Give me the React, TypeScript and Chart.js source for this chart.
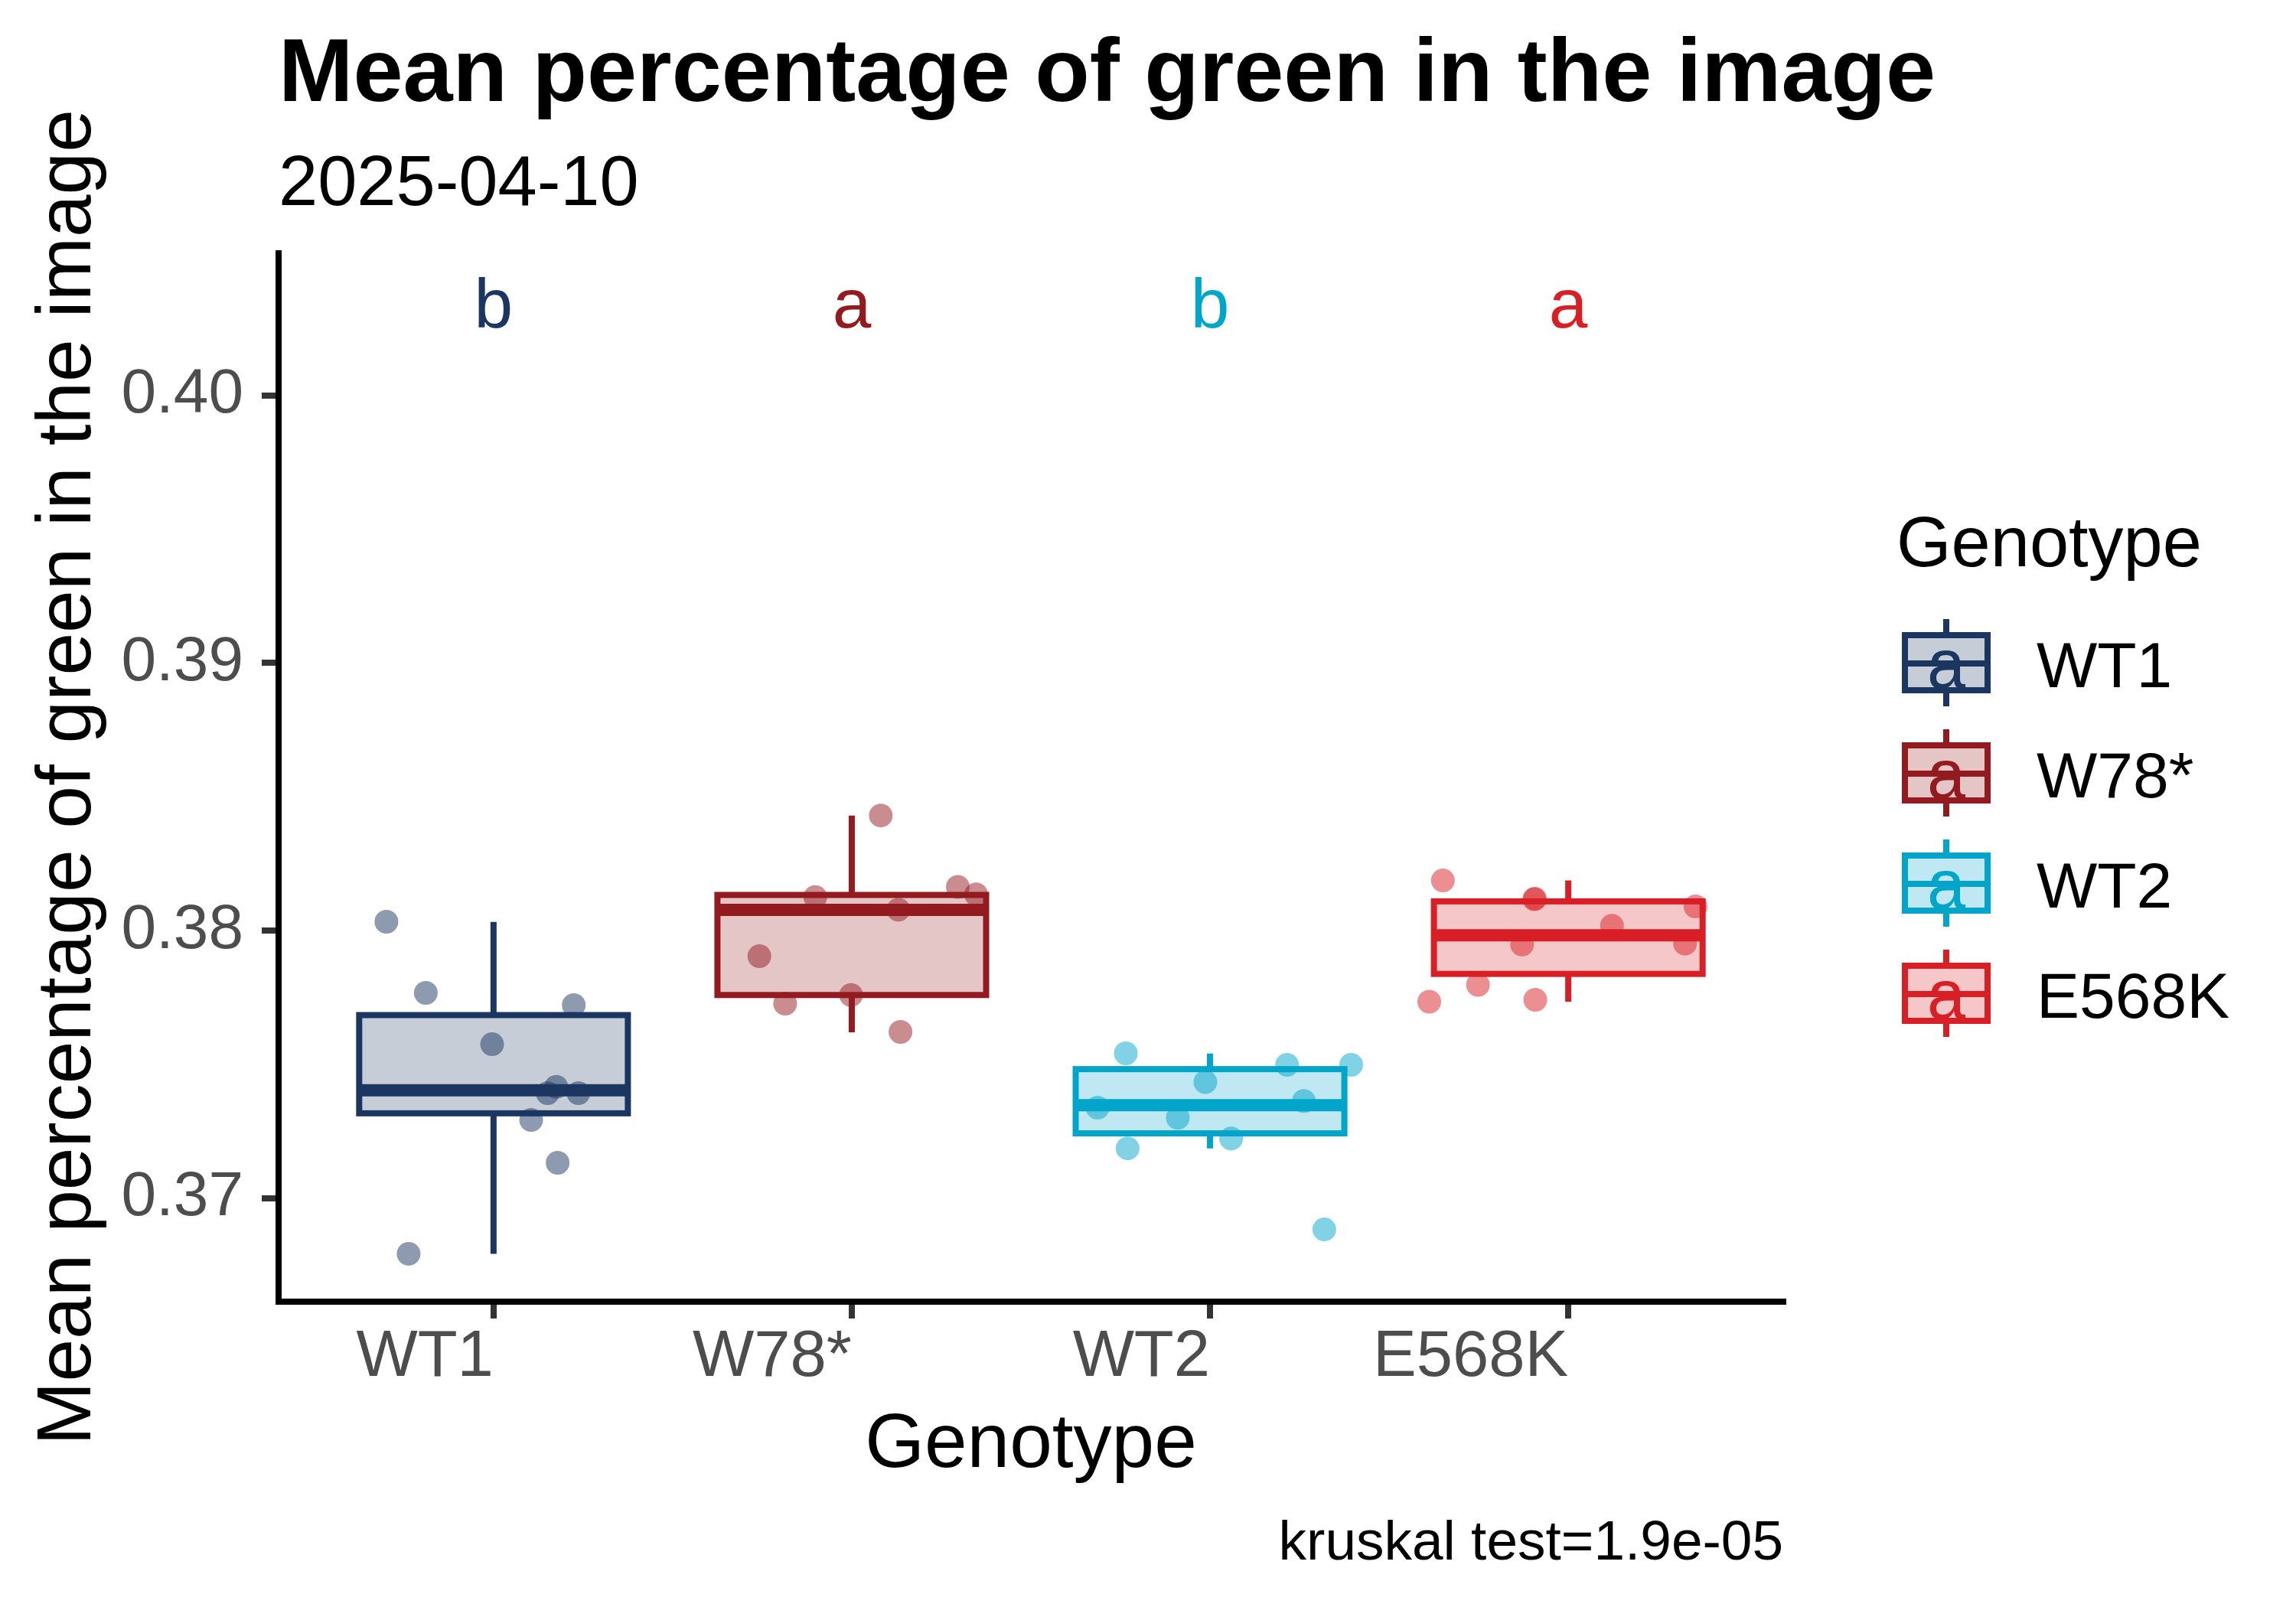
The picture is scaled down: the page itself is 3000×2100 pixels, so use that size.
import React, { useEffect, useRef } from "react";
import { Chart, registerables } from "chart.js";

Chart.register(...registerables);

// ---------- data ----------
const categories = ["WT1", "W78*", "WT2", "E568K"];
const groupColors = ["#1B3660", "#931B1F", "#02A5CA", "#D91F26"];
const sigLetters = ["b", "a", "b", "a"];
const letterY = 0.40254;

const wt1Values = [0.38033, 0.37767, 0.37721, 0.37575, 0.37416, 0.37392, 0.37392, 0.37292, 0.37132, 0.36792];
const wt1Jitter = [-0.299, -0.189, 0.224, -0.004, 0.175, 0.151, 0.237, 0.105, 0.179, -0.237];
const w78Values = [0.3843, 0.38163, 0.38135, 0.38125, 0.38078, 0.37904, 0.37759, 0.37727, 0.37621];
const w78Jitter = [0.081, 0.296, 0.347, -0.102, 0.13, -0.258, -0.002, -0.186, 0.136];
const wt2Values = [0.37541, 0.37498, 0.37498, 0.37434, 0.37363, 0.37338, 0.373, 0.37223, 0.37186, 0.36883];
const wt2Jitter = [-0.235, 0.215, 0.394, -0.013, 0.262, -0.314, -0.09, 0.059, -0.23, 0.319];
const e568kValues = [0.38187, 0.38117, 0.38119, 0.3809, 0.38018, 0.37948, 0.37951, 0.37797, 0.37741, 0.37734];
const e568kJitter = [-0.35, -0.095, -0.093, 0.355, 0.122, -0.129, 0.326, -0.252, -0.092, -0.388];

// box statistics
const whiskerHigh = [0.38032, 0.3843, 0.3754, 0.38187];
const q3 = [0.37684, 0.38133, 0.37482, 0.38109];
const median = [0.37403, 0.38077, 0.37347, 0.37982];
const q1 = [0.37317, 0.37759, 0.37242, 0.37838];
const whiskerLow = [0.36792, 0.3762, 0.37186, 0.37734];

const yTicks = [0.37, 0.38, 0.39, 0.4];
const xTicks = [1, 2, 3, 4];

const titleText = "Mean percentage of green in the image";
const subtitleText = "2025-04-10";
const xTitle = "Genotype";
const yTitle = "Mean percentage of green in the image";
const legendTitle = "Genotype";
const captionText = "kruskal test=1.9e-05";

const groupValues = [wt1Values, w78Values, wt2Values, e568kValues];
const groupJitter = [wt1Jitter, w78Jitter, wt2Jitter, e568kJitter];

// ---------- helpers ----------
const FONT = "'Liberation Sans', Arial, Helvetica, sans-serif";
function rgba(hex: string, a: number) {
  const n = parseInt(hex.slice(1), 16);
  return `rgba(${(n >> 16) & 255},${(n >> 8) & 255},${n & 255},${a})`;
}

const BOX_HALF = 0.375;

const boxPlugin = {
  id: "boxes",
  beforeDatasetsDraw(chart: any) {
    const { ctx, scales } = chart;
    const x = scales.x;
    const y = scales.y;
    categories.forEach((_, i) => {
      const cx = x.getPixelForValue(i + 1);
      const left = x.getPixelForValue(i + 1 - BOX_HALF);
      const right = x.getPixelForValue(i + 1 + BOX_HALF);
      const yHi = y.getPixelForValue(whiskerHigh[i]);
      const yQ3 = y.getPixelForValue(q3[i]);
      const yMed = y.getPixelForValue(median[i]);
      const yQ1 = y.getPixelForValue(q1[i]);
      const yLo = y.getPixelForValue(whiskerLow[i]);
      const col = groupColors[i];
      ctx.save();
      ctx.strokeStyle = col;
      ctx.lineCap = "butt";
      ctx.lineJoin = "miter";
      ctx.lineWidth = 8;
      ctx.beginPath();
      ctx.moveTo(cx, yHi);
      ctx.lineTo(cx, yQ3);
      ctx.moveTo(cx, yQ1);
      ctx.lineTo(cx, yLo);
      ctx.stroke();
      ctx.fillStyle = rgba(col, 0.25);
      ctx.fillRect(left, yQ3, right - left, yQ1 - yQ3);
      ctx.strokeRect(left, yQ3, right - left, yQ1 - yQ3);
      ctx.lineWidth = 16;
      ctx.beginPath();
      ctx.moveTo(left, yMed);
      ctx.lineTo(right, yMed);
      ctx.stroke();
      ctx.restore();
    });
  },
};

const textPlugin = {
  id: "texts",
  afterDraw(chart: any) {
    const { ctx, scales, chartArea } = chart;
    const x = scales.x;
    const y = scales.y;
    ctx.save();
    ctx.textBaseline = "alphabetic";
    // title & subtitle
    ctx.fillStyle = "#000";
    ctx.textAlign = "left";
    ctx.font = `bold 117px ${FONT}`;
    ctx.fillText(titleText, chartArea.left, 132);
    ctx.font = `92px ${FONT}`;
    ctx.fillText(subtitleText, chartArea.left, 268);
    // significance letters
    ctx.textAlign = "center";
    ctx.font = `91px ${FONT}`;
    sigLetters.forEach((l, i) => {
      ctx.fillStyle = groupColors[i];
      ctx.fillText(l, x.getPixelForValue(i + 1), y.getPixelForValue(letterY));
    });
    // axis titles
    ctx.fillStyle = "#000";
    ctx.font = `100px ${FONT}`;
    ctx.fillText(xTitle, (chartArea.left + chartArea.right) / 2, 1917);
    ctx.save();
    ctx.translate(118, (chartArea.top + chartArea.bottom) / 2);
    ctx.rotate(-Math.PI / 2);
    ctx.fillText(yTitle, 0, 0);
    ctx.restore();
    // caption
    ctx.textAlign = "right";
    ctx.font = `73px ${FONT}`;
    ctx.fillText(captionText, chartArea.right, 2038);
    // legend
    ctx.textAlign = "left";
    ctx.font = `92px ${FONT}`;
    ctx.fillText(legendTitle, 2478, 740);
    categories.forEach((c, i) => {
      const cy = 866 + 144 * i;
      const col = groupColors[i];
      const kx0 = 2489;
      const kx1 = 2597;
      const kcx = (kx0 + kx1) / 2;
      ctx.strokeStyle = col;
      ctx.lineWidth = 8;
      ctx.lineCap = "butt";
      ctx.beginPath();
      ctx.moveTo(kcx, cy - 57);
      ctx.lineTo(kcx, cy - 36);
      ctx.moveTo(kcx, cy + 36);
      ctx.lineTo(kcx, cy + 57);
      ctx.stroke();
      ctx.fillStyle = rgba(col, 0.25);
      ctx.fillRect(kx0, cy - 36, kx1 - kx0, 72);
      ctx.strokeRect(kx0, cy - 36, kx1 - kx0, 72);
      ctx.beginPath();
      ctx.moveTo(kx0, cy + 1);
      ctx.lineTo(kx1, cy + 1);
      ctx.stroke();
      ctx.fillStyle = col;
      ctx.textAlign = "center";
      ctx.font = `90px ${FONT}`;
      ctx.fillText("a", kcx, cy + 33);
      ctx.fillStyle = "#000";
      ctx.textAlign = "left";
      ctx.font = `84px ${FONT}`;
      ctx.fillText(c, 2661, cy + 32);
    });
    ctx.restore();
  },
};

export default function App() {
  const ref = useRef<HTMLCanvasElement | null>(null);
  useEffect(() => {
    if (!ref.current) return;
    const datasets = categories.map((c, i) => ({
      label: c,
      data: groupValues[i].map((v, j) => ({ x: i + 1 + groupJitter[i][j], y: v })),
      backgroundColor: rgba(groupColors[i], 0.5),
      borderWidth: 0,
      pointRadius: 15.5,
      pointHoverRadius: 15.5,
    }));
    const chart = new Chart(ref.current, {
      type: "scatter",
      data: { datasets },
      options: {
        animation: false,
        responsive: false,
        devicePixelRatio: 1,
        events: [],
        layout: { padding: { left: 0, top: 331, right: 670, bottom: 199 } },
        plugins: {
          legend: { display: false },
          title: { display: false },
          tooltip: { enabled: false },
        },
        scales: {
          x: {
            type: "linear",
            min: 0.4,
            max: 4.6,
            afterFit: (s: any) => {
              s.height = 200;
            },
            afterBuildTicks: (s: any) => {
              s.ticks = xTicks.map((v) => ({ value: v }));
            },
            border: { display: true, color: "#000", width: 8 },
            grid: {
              display: true,
              drawOnChartArea: false,
              drawTicks: true,
              tickLength: 22,
              tickWidth: 8,
              tickColor: "#333333",
              color: "#333333",
              lineWidth: 8,
            },
            ticks: {
              align: "end",
              padding: 1,
              color: "#4D4D4D",
              font: { family: FONT, size: 85 },
              maxRotation: 0,
              autoSkip: false,
              callback: (v: any) => categories[Math.round(Number(v)) - 1] ?? "",
            },
          },
          y: {
            type: "linear",
            min: 0.36613,
            max: 0.40531,
            afterFit: (s: any) => {
              s.width = 364;
            },
            afterBuildTicks: (s: any) => {
              s.ticks = yTicks.map((v) => ({ value: v }));
            },
            border: { display: true, color: "#000", width: 8 },
            grid: {
              display: true,
              drawOnChartArea: false,
              drawTicks: true,
              tickLength: 22,
              tickWidth: 8,
              tickColor: "#333333",
              color: "#333333",
              lineWidth: 8,
            },
            ticks: {
              padding: 24,
              color: "#4D4D4D",
              font: { family: FONT, size: 82 },
              autoSkip: false,
              callback: (v: any) => Number(v).toFixed(2),
            },
          },
        },
      },
      plugins: [boxPlugin, textPlugin],
    } as any);
    return () => chart.destroy();
  }, []);
  return (
    <div style={{ position: "absolute", left: 0, top: 0, width: 3000, height: 2100, background: "#fff" }}>
      <canvas ref={ref} width={3000} height={2100} style={{ width: 3000, height: 2100, display: "block" }} />
    </div>
  );
}
